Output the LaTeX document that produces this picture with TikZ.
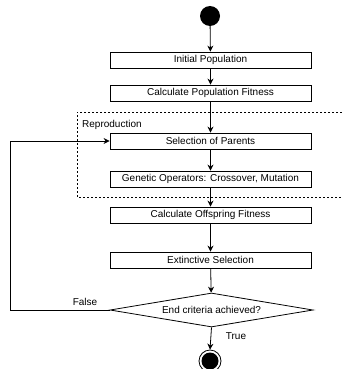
\documentclass[tikz,border=0pt]{standalone}
\usepackage{fontspec}
\setmainfont{Liberation Sans}
\usetikzlibrary{shapes.geometric,arrows.meta}
\tikzset{
  stepbox/.style={draw,line width=0.8pt,minimum width=201pt,minimum height=16pt,inner sep=0pt,font=\fontsize{10}{12}\selectfont},
  decision/.style={draw,diamond,aspect=6,line width=0.8pt,minimum width=203pt,minimum height=34pt,inner sep=0pt,font=\fontsize{10}{12}\selectfont},
  arr/.style={line width=0.8pt,-{Stealth[length=6pt,width=6pt]}},
  lbl/.style={font=\fontsize{10}{12}\selectfont,inner sep=0pt}
}
\begin{document}
\begin{tikzpicture}[x=1pt,y=-1pt]
  \useasboundingbox (0,0) rectangle (342,369);
  % start and end
  \node[circle,fill=black,minimum size=20pt,inner sep=0pt] (start) at (210,16) {};
  \node[circle,draw,line width=0.8pt,minimum size=22pt,inner sep=0pt] (stop) at (210,361) {};
  \fill (stop.center) circle (8.5);
  % steps
  \node[stepbox] (init) at (210.5,60) {Initial Population};
  \node[stepbox] (popfit) at (210.5,93) {Calculate Population Fitness};
  \node[stepbox] (sel) at (210.5,141) {Selection of Parents};
  \node[stepbox] (genop) at (210.5,179) {Genetic Operators: Crossover, Mutation};
  \node[stepbox] (offfit) at (210.5,215) {Calculate Offspring Fitness};
  \node[stepbox] (extsel) at (210.5,260) {Extinctive Selection};
  \node[decision] (cond) at (211.5,310) {End criteria achieved?};
  % reproduction group
  \draw[line width=0.7pt,dash pattern=on 2pt off 2pt] (342,112) -- (77,112) -- (77,197) -- (342,197);
  \node[lbl,anchor=west] (repro) at (82,125) {Reproduction};
  % flow
  \draw[arr] (start) -- (init);
  \draw[arr] (init) -- (popfit);
  \draw[arr] (popfit) -- (sel);
  \draw[arr] (sel) -- (genop);
  \draw[arr] (genop) -- (offfit);
  \draw[arr] (offfit) -- (extsel);
  \draw[arr] (extsel) -- (cond);
  \draw[arr] (cond.south) -- (stop.north);
  \coordinate (loop) at (10,310);
  \draw[arr] (cond.west) -- (loop) |- (sel.west);
  \node[lbl] (false) at (85,302) {False};
  \node[lbl] (true) at (236,336) {True};
\end{tikzpicture}
\end{document}
